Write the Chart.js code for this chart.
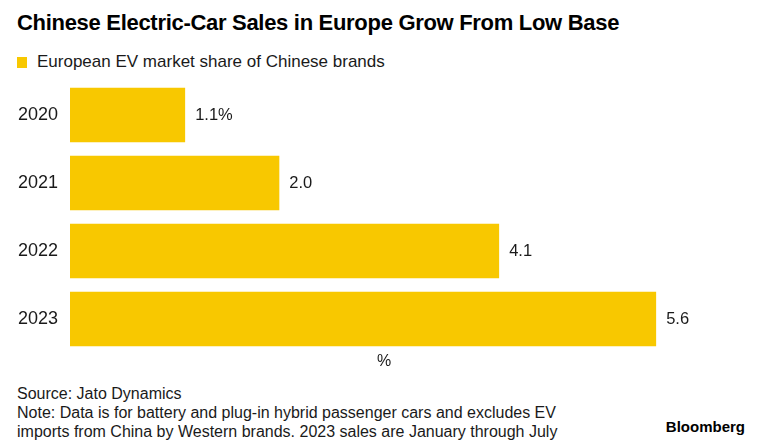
<!DOCTYPE html>
<html>
<head>
<meta charset="utf-8">
<script src="https://cdn.jsdelivr.net/npm/chart.js@4"></script>
<style>
  body { margin: 0; background: #fff; font-family: "Liberation Sans", Arial, sans-serif; color: #1a1a1a; }
  #wrap { position: relative; width: 757px; height: 447px; overflow: hidden; }
  #title { position: absolute; left: 17px; top: 10px; font-size: 22px; font-weight: bold; color: #000; letter-spacing: -0.3px; }
  #legend { position: absolute; left: 17px; top: 52px; font-size: 17px; }
  #legend span { display: inline-block; width: 10px; height: 11px; background: #f8c800; margin-right: 10px; vertical-align: -1px; }
  #chartBox { position: absolute; left: 0; top: 76px; width: 757px; height: 300px; }
  #foot { position: absolute; left: 17px; top: 384px; font-size: 16px; line-height: 19px; }
  #brand { position: absolute; right: 12px; top: 418px; font-size: 15px; font-weight: bold; color: #000; }
</style>
</head>
<body>
<div id="wrap">
  <div id="title">Chinese Electric-Car Sales in Europe Grow From Low Base</div>
  <div id="legend"><span></span>European EV market share of Chinese brands</div>
  <div id="chartBox"><canvas id="bar-chart" width="757" height="300"></canvas></div>
  <div id="foot">Source: Jato Dynamics<br>Note: Data is for battery and plug-in hybrid passenger cars and excludes EV<br>imports from China by Western brands. 2023 sales are January through July</div>
  <div id="brand">Bloomberg</div>
</div>
<script>
const years = ["2020", "2021", "2022", "2023"];
const shares = [1.1, 2.0, 4.1, 5.6];

// labels at the end of each bar
const valueLabels = {
  id: 'valueLabels',
  afterDatasetsDraw(chart) {
    const ctx = chart.ctx;
    const meta = chart.getDatasetMeta(0);
    ctx.save();
    ctx.font = '16.5px "Liberation Sans", Arial, sans-serif';
    ctx.fillStyle = '#1a1a1a';
    ctx.textBaseline = 'middle';
    meta.data.forEach((bar, i) => {
      const txt = shares[i].toFixed(1) + (i === 0 ? '%' : '');
      ctx.fillText(txt, bar.x + 10, bar.y);
    });
    ctx.restore();
  }
};

new Chart(document.getElementById("bar-chart"), {
  type: 'bar',
  data: {
    labels: years,
    datasets: [{
      label: "European EV market share of Chinese brands",
      backgroundColor: "#f8c800",
      data: shares,
      barPercentage: 1,
      categoryPercentage: 0.8
    }]
  },
  options: {
    indexAxis: 'y',
    responsive: false,
    animation: false,
    layout: { padding: { top: 5, right: 59, left: 0, bottom: 0 } },
    plugins: {
      legend: { display: false },
      tooltip: { enabled: false }
    },
    scales: {
      x: {
        min: 0,
        max: 6,
        grid: { display: false, drawTicks: false },
        border: { display: false },
        ticks: { display: false },
        title: {
          display: true,
          text: '%',
          color: '#1a1a1a',
          font: { size: 16, family: '"Liberation Sans", Arial, sans-serif' },
          padding: { top: 0, bottom: 5 }
        },
        afterFit(s) { s.height = 23; }
      },
      y: {
        grid: { display: false, drawTicks: false },
        border: { display: false },
        ticks: {
          color: '#1a1a1a',
          padding: 12,
          font: { size: 18, family: '"Liberation Sans", Arial, sans-serif' }
        },
        afterFit(s) {
          s.width = 70;
          s.paddingTop = 0;
          s.paddingBottom = 0;
        }
      }
    }
  },
  plugins: [valueLabels]
});
</script>
</body>
</html>
